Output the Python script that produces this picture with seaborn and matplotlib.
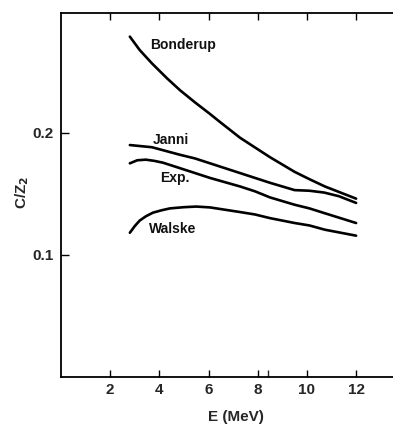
import numpy as np
import pandas as pd
import matplotlib
matplotlib.use("Agg")
import matplotlib.pyplot as plt
import seaborn as sns
from matplotlib.ticker import FixedLocator

# ---- data ----
bonderup_e = [2.8, 3.2, 3.7, 4.3, 4.84, 5.45, 6.06, 6.46, 7.28, 7.89, 8.5, 9.5, 10.1, 10.73, 12.0]
bonderup_c = [0.279, 0.268, 0.257, 0.245, 0.235, 0.225, 0.2155, 0.209, 0.196, 0.188, 0.180, 0.168, 0.162, 0.156, 0.146]

janni_e = [2.8, 3.7, 4.84, 5.45, 6.06, 7.28, 7.89, 8.5, 9.5, 10.1, 10.7, 11.3, 12.0]
janni_c = [0.190, 0.1882, 0.182, 0.179, 0.175, 0.167, 0.163, 0.159, 0.153, 0.1525, 0.151, 0.148, 0.1425]

exp_e = [2.8, 3.1, 3.45, 3.8, 4.15, 4.84, 5.45, 6.06, 7.28, 7.89, 8.5, 9.5, 10.1, 10.73, 12.0]
exp_c = [0.175, 0.1775, 0.178, 0.177, 0.1755, 0.171, 0.167, 0.163, 0.156, 0.152, 0.147, 0.141, 0.138, 0.134, 0.126]

walske_e = [2.8, 3.0, 3.2, 3.45, 3.74, 4.1, 4.43, 5.0, 5.5, 6.06, 7.28, 7.89, 8.5, 9.5, 10.1, 10.73, 12.0]
walske_c = [0.118, 0.1235, 0.128, 0.1315, 0.1345, 0.1365, 0.138, 0.139, 0.1395, 0.1388, 0.135, 0.133, 0.130, 0.126, 0.124, 0.1205, 0.1156]

series_names = ["Bonderup", "Janni", "Exp.", "Walske"]
label_x = [3.62, 3.72, 4.02, 3.58]
label_y = [0.272, 0.194, 0.163, 0.121]

x_ticks = [2, 4, 6, 8, 10, 12]
x_minor_ticks = [8.4]
y_ticks = [0.1, 0.2]
y_tick_labels = ["0.1", "0.2"]

frames = []
for name, e, c in zip(series_names,
                      [bonderup_e, janni_e, exp_e, walske_e],
                      [bonderup_c, janni_c, exp_c, walske_c]):
    frames.append(pd.DataFrame({"E": e, "C": c, "curve": name}))
df = pd.concat(frames, ignore_index=True)

sns.set_style("ticks")
plt.rcParams["font.family"] = ["Liberation Sans", "DejaVu Sans"]

fig = plt.figure(figsize=(3.93, 4.25), dpi=100)
ax = fig.add_axes([61 / 393, 1 - 376.5 / 425, 1 - 61 / 393, (376.5 - 13) / 425])

sns.lineplot(data=df, x="E", y="C", units="curve", estimator=None, sort=False,
             color="black", linewidth=1.9, ax=ax, legend=False)

for name, lx, ly in zip(series_names, label_x, label_y):
    ax.text(lx, ly, name, fontsize=10, fontweight="bold", va="center", ha="left",
            color="#111111")

ax.set_xlim(0, 13.5)
ax.set_ylim(0, 0.2984)

ax.set_xticks(x_ticks)
ax.set_xticklabels([str(t) for t in x_ticks], fontsize=11, fontweight="bold")
ax.xaxis.set_minor_locator(FixedLocator(x_minor_ticks))
ax.set_yticks(y_ticks)
ax.set_yticklabels(y_tick_labels, fontsize=11, fontweight="bold")

ax.tick_params(axis="x", which="major", direction="in", top=True, bottom=True,
               length=5, width=1, pad=5, color="black")
ax.tick_params(axis="x", which="minor", direction="in", top=False, bottom=True,
               length=5, width=1)
ax.tick_params(axis="y", which="major", direction="in", left=True, right=False,
               length=6, width=1, pad=5, color="black")

for side in ["left", "top", "bottom"]:
    ax.spines[side].set_visible(True)
    ax.spines[side].set_linewidth(1.3)
    ax.spines[side].set_color("black")
ax.spines["right"].set_visible(False)

ax.set_xlabel("")
ax.set_ylabel("")
fig.text(236 / 393, 1 - 417 / 425, "E (MeV)", fontsize=11, fontweight="bold",
         ha="center", va="center")
fig.text(22 / 393, 1 - 192 / 425, r"C/Z$_\mathbf{2}$", fontsize=11, fontweight="bold",
         rotation=90, ha="center", va="center")

fig.savefig("out.png", dpi=100, facecolor="white")
